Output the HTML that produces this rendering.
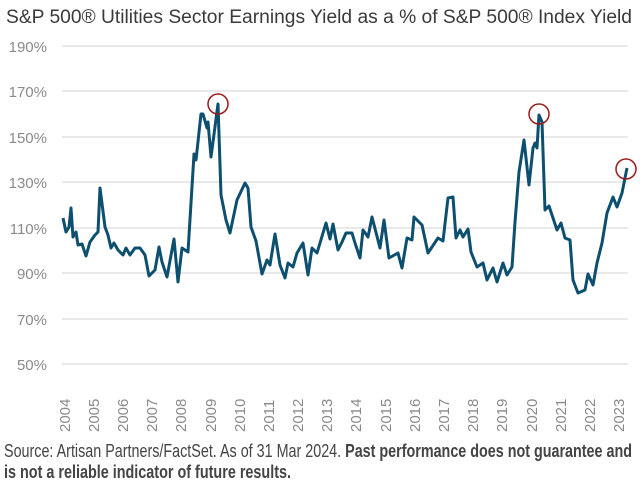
<!DOCTYPE html>
<html><head><meta charset="utf-8"><style>
body{margin:0;background:#fff;width:640px;height:484px;overflow:hidden}
</style></head><body>
<svg width="640" height="484" xmlns="http://www.w3.org/2000/svg" font-family="'Liberation Sans Narrow','Liberation Sans',sans-serif">
<text x="6" y="23" font-size="19" fill="#3a3a3a" textLength="626" lengthAdjust="spacingAndGlyphs">S&amp;P 500® Utilities Sector Earnings Yield as a % of S&amp;P 500® Index Yield</text>
<g stroke="#dcdcdc" stroke-width="1.3">
<line x1="62" x2="628" y1="46" y2="46"/><line x1="62" x2="628" y1="91" y2="91"/><line x1="62" x2="628" y1="137" y2="137"/><line x1="62" x2="628" y1="182" y2="182"/><line x1="62" x2="628" y1="228" y2="228"/><line x1="62" x2="628" y1="273" y2="273"/><line x1="62" x2="628" y1="319" y2="319"/><line x1="62" x2="628" y1="364" y2="364"/>
</g>
<g font-size="15" fill="#8a8a8a" text-anchor="end">
<text x="47" y="52">190%</text><text x="47" y="97">170%</text><text x="47" y="143">150%</text><text x="47" y="188">130%</text><text x="47" y="234">110%</text><text x="47" y="279">90%</text><text x="47" y="325">70%</text><text x="47" y="370">50%</text>
</g>
<g font-size="15" fill="#8a8a8a">
<text transform="translate(70,432) rotate(-90)">2004</text><text transform="translate(99,432) rotate(-90)">2005</text><text transform="translate(128,432) rotate(-90)">2006</text><text transform="translate(157,432) rotate(-90)">2007</text><text transform="translate(186,432) rotate(-90)">2008</text><text transform="translate(216,432) rotate(-90)">2009</text><text transform="translate(245,432) rotate(-90)">2010</text><text transform="translate(274,432) rotate(-90)">2011</text><text transform="translate(303,432) rotate(-90)">2012</text><text transform="translate(332,432) rotate(-90)">2013</text><text transform="translate(361,432) rotate(-90)">2014</text><text transform="translate(391,432) rotate(-90)">2015</text><text transform="translate(420,432) rotate(-90)">2016</text><text transform="translate(449,432) rotate(-90)">2017</text><text transform="translate(478,432) rotate(-90)">2018</text><text transform="translate(507,432) rotate(-90)">2019</text><text transform="translate(537,432) rotate(-90)">2020</text><text transform="translate(566,432) rotate(-90)">2021</text><text transform="translate(595,432) rotate(-90)">2022</text><text transform="translate(624,432) rotate(-90)">2023</text>
</g>
<polyline fill="none" stroke="#0d4f6e" stroke-width="3" stroke-linejoin="round" points="63,218 66,232 69,227 71,208 73,237 76,232 78,245 82,244 86,256 90,242 95,235 98,232 100,188 105,227 108,235 111,248 114,243 118,250 123,255 126,248 130,255 135,248 140,248 145,255 149,276 155,270 159,247 162,262 167,277 174,239 178,282 182,248 188,252 194,154 196,160 201,114 203,114 207,128 208,122 211,157 218,104 221,195 226,220 230,233 237,200 245,183 248,188 251,227 256,241 262,274 267,260 270,265 275,234 280,265 285,278 288,263 293,267 297,253 303,243 308,275 312,248 317,253 326,223 330,239 333,224 338,250 342,242 346,233 352,233 355,243 360,258 363,230 368,237 372,217 380,248 384,220 389,258 398,253 402,268 407,238 412,240 414,217 422,225 428,253 438,238 443,241 448,198 453,197 456,238 460,230 463,237 468,229 471,252 477,267 483,263 487,280 493,268 497,282 503,263 507,275 512,267 515,222 519,172 524,140 529,185 533,148 535,143 537,148 539,115 542,122 545,210 549,206 557,230 561,223 565,238 570,240 573,280 578,293 585,290 588,274 593,285 597,263 602,243 607,213 613,197 617,207 622,193 627,168"/>
<g fill="none" stroke="#9b1c1c" stroke-width="1.5">
<circle cx="218" cy="104" r="10"/><circle cx="539" cy="114" r="10"/><circle cx="626" cy="169" r="10"/>
</g>
<text x="4" y="457" font-size="18" fill="#444" textLength="628" lengthAdjust="spacingAndGlyphs">Source: Artisan Partners/FactSet. As of 31 Mar 2024. <tspan font-weight="bold">Past performance does not guarantee and</tspan></text>
<text x="4" y="478" font-size="18" fill="#444" font-weight="bold" textLength="287" lengthAdjust="spacingAndGlyphs">is not a reliable indicator of future results.</text>
</svg>
</body></html>
